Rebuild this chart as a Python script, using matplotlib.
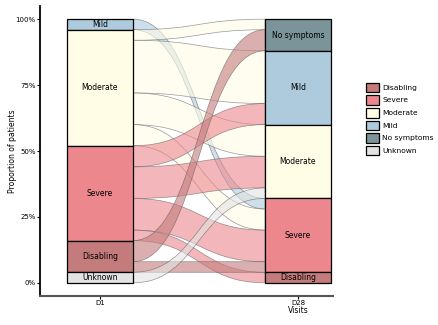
import numpy as np
import matplotlib.pyplot as plt
from matplotlib.path import Path
from matplotlib.patches import PathPatch, Rectangle, Patch

plt.rcParams['font.family'] = 'DejaVu Sans'

# categories, top to bottom as stacked on the plot
stack_order = ["No symptoms", "Mild", "Moderate", "Severe", "Disabling", "Unknown"]
legend_order = ["Disabling", "Severe", "Moderate", "Mild", "No symptoms", "Unknown"]
visits = ["D1", "D28"]

# patients moving from D1 state to D28 state
flow_from = ["Mild", "Moderate", "Moderate", "Moderate", "Moderate",
             "Severe", "Severe", "Severe", "Severe",
             "Disabling", "Disabling", "Unknown"]
flow_to = ["Severe", "No symptoms", "Mild", "Moderate", "Severe",
           "Mild", "Moderate", "Severe", "Disabling",
           "No symptoms", "Severe", "Moderate"]
flow_n = [1, 1, 5, 3, 2, 2, 3, 3, 1, 2, 1, 1]

colors = {
    "Disabling": "#c47b7b",
    "Severe": "#ec878e",
    "Moderate": "#fffde6",
    "Mild": "#adcbdc",
    "No symptoms": "#7a9499",
    "Unknown": "#e3e3e3",
}

total = sum(flow_n)
pct = [100.0 * n / total for n in flow_n]


def strata(keys):
    """Top/bottom of each stratum, stacked from 100% downwards."""
    tops = {}
    y = 100.0
    for cat in stack_order:
        h = sum(p for k, p in zip(keys, pct) if k == cat)
        if h > 0:
            tops[cat] = (y, y - h)
            y -= h
    return tops


def lodes(own, other, tops):
    """Position of each flow inside its stratum, ordered by the other side."""
    pos = [None] * len(pct)
    for cat, (top, _) in tops.items():
        idx = [i for i in range(len(pct)) if own[i] == cat]
        idx.sort(key=lambda i: stack_order.index(other[i]))
        y = top
        for i in idx:
            pos[i] = (y, y - pct[i])
            y -= pct[i]
    return pos


left = strata(flow_from)
right = strata(flow_to)
left_pos = lodes(flow_from, flow_to, left)
right_pos = lodes(flow_to, flow_from, right)

fig = plt.figure(figsize=(4.39, 3.25), dpi=100)
ax = fig.add_axes([40 / 439, 29 / 325, 293 / 439, 290 / 325])

w = 1 / 6
x0, x1 = 1 + w, 2 - w
c = 0.5 * (x1 - x0)
for i in range(len(pct)):
    (t0, b0), (t1, b1) = left_pos[i], right_pos[i]
    verts = [(x0, t0), (x0 + c, t0), (x1 - c, t1), (x1, t1),
             (x1, b1), (x1 - c, b1), (x0 + c, b0), (x0, b0), (x0, t0)]
    codes = [Path.MOVETO, Path.CURVE4, Path.CURVE4, Path.CURVE4,
             Path.LINETO, Path.CURVE4, Path.CURVE4, Path.CURVE4, Path.CLOSEPOLY]
    ax.add_patch(PathPatch(Path(verts, codes), facecolor=colors[flow_from[i]],
                           alpha=0.6, edgecolor='#555555', lw=0.5, zorder=1))

for xc, tops in [(1, left), (2, right)]:
    for cat, (top, bot) in tops.items():
        ax.add_patch(Rectangle((xc - w, bot), 2 * w, top - bot,
                               facecolor=colors[cat], edgecolor='black',
                               lw=0.9, zorder=2))
        ax.text(xc, (top + bot) / 2, cat, ha='center', va='center',
                fontsize=5.5, zorder=3)

ax.set_xlim(1 - 60 / 198, 2 + 35 / 198)
ax.set_ylim(-5, 105)
ax.set_xticks([1, 2])
ax.set_xticklabels(visits)
ax.set_yticks([0, 25, 50, 75, 100])
ax.set_yticklabels(["0%", "25%", "50%", "75%", "100%"])
ax.tick_params(labelsize=5, length=2.2, width=0.8, pad=1)
ax.spines['top'].set_visible(False)
ax.spines['right'].set_visible(False)
ax.spines['left'].set_linewidth(1.3)
ax.spines['bottom'].set_linewidth(1.5)
ax.spines['bottom'].set_color('#555555')
ax.set_ylabel("Proportion of patients", fontsize=5.5, labelpad=-1)
ax.set_xlabel("Visits", fontsize=5.5)
ax.xaxis.set_label_coords((298 - 40) / 293, -0.035)

handles = [Patch(facecolor=colors[k], edgecolor='black', lw=0.9) for k in legend_order]
fig.legend(handles, legend_order, loc='center left',
           bbox_to_anchor=(366 / 439, 1 - 119 / 325), frameon=False,
           fontsize=5.4, handlelength=1.75, handleheight=1.6,
           labelspacing=0.4, handletextpad=0.45, borderpad=0, borderaxespad=0)

fig.savefig("out.png", dpi=100)
